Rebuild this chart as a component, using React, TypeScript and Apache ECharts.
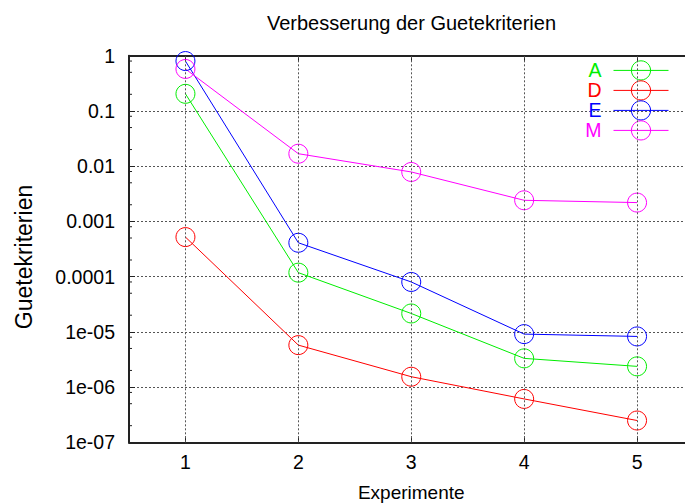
import React, { useEffect, useRef } from "react";
import * as echarts from "echarts";

const xValues = [1, 2, 3, 4, 5];
const seriesNames = ["A", "D", "E", "M"];
const seriesColors = ["#00ee00", "#ff0000", "#0000ff", "#ff00ff"];
const valuesA = [0.204, 1.18e-4, 2.15e-5, 3.31e-6, 2.37e-6];
const valuesD = [5.2e-4, 5.75e-6, 1.54e-6, 6.1e-7, 2.48e-7];
const valuesE = [0.8, 4.1e-4, 8.0e-5, 9.1e-6, 8.26e-6];
const valuesM = [0.575, 0.0168, 7.85e-3, 2.41e-3, 2.19e-3];
const yTickLabels = ["1e-07", "1e-06", "1e-05", "0.0001", "0.001", "0.01", "0.1", "1"];
const decadeExponents = [-7, -6, -5, -4, -3, -2, -1];
const minorMultiples = [2, 5, 8];

const FONT = "Liberation Sans";

export default function App() {
  const ref = useRef<HTMLDivElement>(null);
  useEffect(() => {
    document.body.style.margin = "0";
    const chart = echarts.init(ref.current!, null, { renderer: "svg" });
    const allValues = [valuesA, valuesD, valuesE, valuesM];
    const minorTicks: number[][] = [];
    decadeExponents.forEach((e) => {
      minorMultiples.forEach((m) => minorTicks.push([0.5, m * Math.pow(10, e)]));
    });
    const lineSeries = seriesNames.map((name, i) => ({
      name,
      type: "line",
      data: xValues.map((x, j) => [x, allValues[i][j]]),
      symbol: "circle",
      symbolSize: 19,
      clip: false,
      z: 3,
      lineStyle: { color: seriesColors[i], width: 1 },
      itemStyle: { color: "rgba(0,0,0,0)", borderColor: seriesColors[i], borderWidth: 1 },
      emphasis: { disabled: true },
    }));
    const gridSeries = {
      name: "grid",
      type: "line",
      data: [],
      silent: true,
      z: 1,
      markLine: {
        silent: true,
        symbol: "none",
        label: { show: false },
        lineStyle: { color: "#555", type: [2, 2], width: 1 },
        emphasis: { disabled: true },
        data: xValues.map((x) => ({ xAxis: x })),
      },
    };
    const minorSeries = {
      name: "minor",
      type: "custom",
      silent: true,
      z: 4,
      data: minorTicks,
      renderItem: (params: any, api: any) => {
        const p = api.coord([api.value(0), api.value(1)]);
        return {
          type: "line",
          shape: { x1: p[0], y1: p[1], x2: p[0] + 3, y2: p[1] },
          style: { stroke: "#222", lineWidth: 1 },
        };
      },
    };
    const legends = seriesNames.map((name, i) => ({
      orient: "vertical",
      align: "right",
      right: 16,
      top: 60.3 + i * 20,
      padding: 0,
      itemWidth: 55,
      itemHeight: 24,
      selectedMode: false,
      itemStyle: { color: "rgba(0,0,0,0)", borderColor: seriesColors[i], borderWidth: 1 },
      lineStyle: { color: seriesColors[i], width: 1 },
      textStyle: { fontSize: 19.5, fontFamily: FONT, padding: [0, 7, 0, 0], color: seriesColors[i] },
      data: [{ name, textStyle: { color: seriesColors[i] } }],
    }));
    const option: any = {
      animation: false,
      backgroundColor: "#fff",
      textStyle: { fontFamily: FONT },
      title: {
        text: "Verbesserung der Guetekriterien",
        left: 411.5,
        textAlign: "center",
        top: 13,
        padding: 0,
        textStyle: { fontSize: 20, fontWeight: "normal", color: "#000", fontFamily: FONT },
      },
      grid: { left: 129, top: 55.7, width: 564.5, height: 386.6, containLabel: false, outerBoundsMode: "none" },
      legend: legends,
      xAxis: [
        {
          type: "value",
          min: 0.5,
          max: 5.5,
          position: "bottom",
          name: "Experimente",
          nameLocation: "middle",
          nameGap: 41,
          nameTextStyle: { fontSize: 19, color: "#000", fontFamily: FONT },
          axisLine: { show: true, lineStyle: { color: "#222", width: 2 } },
          axisTick: { show: true, inside: true, length: 6, customValues: xValues, lineStyle: { color: "#222" } },
          axisLabel: { show: true, customValues: xValues, margin: 10, fontSize: 19.5, color: "#000", fontFamily: FONT },
          splitLine: { show: false },
        },
        {
          type: "value",
          min: 0.5,
          max: 5.5,
          position: "top",
          axisLine: { show: true, lineStyle: { color: "#222", width: 2 } },
          axisTick: { show: true, inside: true, length: 6, customValues: xValues, lineStyle: { color: "#222" } },
          axisLabel: { show: false },
          splitLine: { show: false },
        },
      ],
      yAxis: {
        type: "log",
        logBase: 10,
        min: 1e-7,
        max: 1,
        splitNumber: 7,
        name: "Guetekriterien",
        nameLocation: "middle",
        nameGap: 94,
        nameRotate: 90,
        nameTextStyle: { fontSize: 23, color: "#000", fontFamily: FONT, padding: [0, 16, 0, 0] },
        axisLine: { show: true, lineStyle: { color: "#222", width: 2 } },
        axisTick: { show: true, inside: true, length: 6, lineStyle: { color: "#222" } },
        axisLabel: {
          margin: 14,
          fontSize: 19.5,
          color: "#000",
          fontFamily: FONT,
          formatter: (v: number) => yTickLabels[Math.round(Math.log10(v)) + 7],
        },
        splitLine: { show: true, lineStyle: { color: "#555", type: [2, 2], width: 1 } },
      },
      series: [gridSeries, minorSeries, ...lineSeries],
    };
    chart.setOption(option);
    return () => chart.dispose();
  }, []);
  return <div ref={ref} style={{ width: 685, height: 504 }} />;
}
